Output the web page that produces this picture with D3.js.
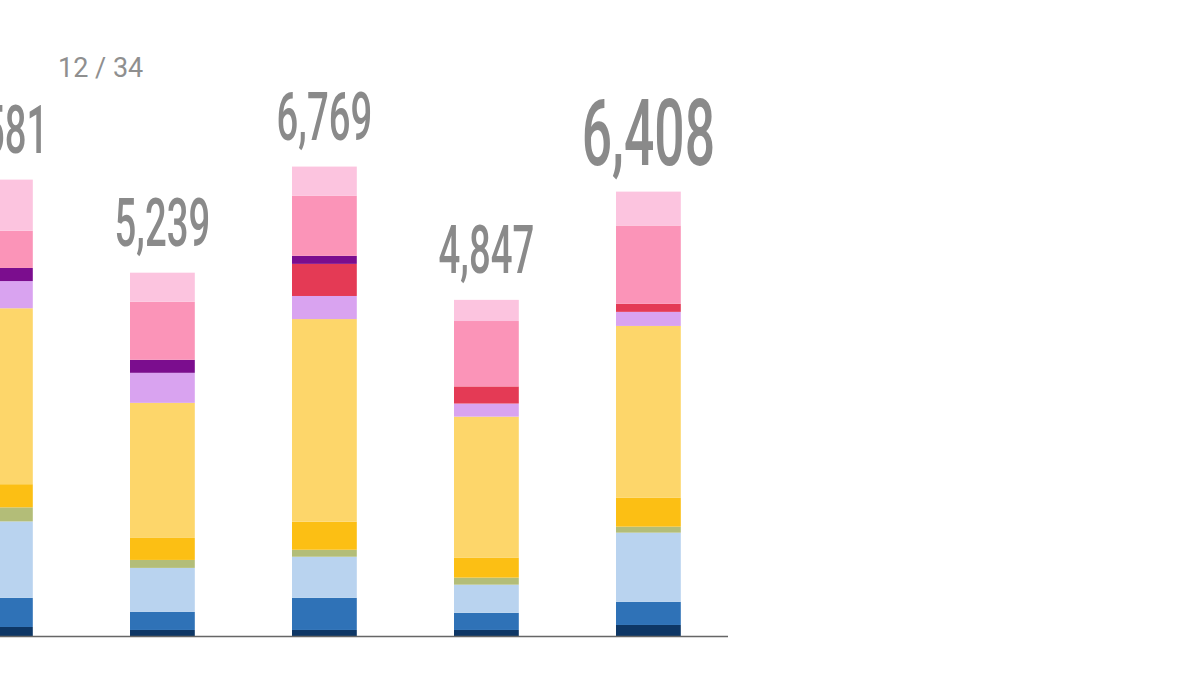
<!DOCTYPE html>
<html>
<head>
<meta charset="utf-8">
<script src="https://d3js.org/d3.v7.min.js"></script>
<style>
  body { margin: 0; background: #fff; }
  svg { display: block; }
</style>
</head>
<body>
<script>
"use strict";
var width = 1200, height = 675;

/* data (bottom to top of each bar) */
var bars = ["b1", "b2", "b3", "b4", "b5"];
var totals = [6581, 5239, 6769, 4847, 6408];
var keys = ["navy", "medBlue", "lightBlue", "olive", "amber", "yellow",
            "lavender", "crimson", "purple", "pink", "lightPink"];
var navy      = [130,  87,   87,   87,   159];
var medBlue   = [420,  260,  463,  247,  333];
var lightBlue = [1102, 635,  593,  406,  998];
var olive     = [203,  115,  101,  102,  87];
var amber     = [334,  317,  405,  290,  420];
var yellow    = [2537, 1948, 2921, 2031, 2474];
var lavender  = [392,  433,  333,  189,  203];
var crimson   = [0,    0,    463,  247,  116];
var purple    = [189,  188,  116,  0,    0];
var pink      = [537,  837,  868,  943,  1129];
var lightPink = [737,  419,  419,  305,  489];
var pageLabel = "12 / 34";
var highlight = "b5";

var colors = {
  navy: "#0e3766", medBlue: "#2f72b7", lightBlue: "#b9d3ef", olive: "#b3bd78",
  amber: "#fcbf14", yellow: "#fdd66a", lavender: "#d9a3f0", crimson: "#e43a55",
  purple: "#7b0d8e", pink: "#fb94b8", lightPink: "#fcc4df"
};

var series = {navy: navy, medBlue: medBlue, lightBlue: lightBlue, olive: olive,
  amber: amber, yellow: yellow, lavender: lavender, crimson: crimson,
  purple: purple, pink: pink, lightPink: lightPink};

var table = bars.map(function(b, i) {
  var row = {bar: b};
  keys.forEach(function(k) { row[k] = series[k][i]; });
  return row;
});

var baseY = 636;
var svg = d3.select("body").append("svg")
  .attr("width", width).attr("height", height);

var x = d3.scaleBand().domain(bars)
  .range([-32, 680.8]).paddingInner(0.6).paddingOuter(0).align(0);
var y = d3.scaleLinear().domain([0, 9171]).range([baseY, 0]);

var stack = d3.stack().keys(keys)(table);

svg.append("g").selectAll("g")
  .data(stack).enter().append("g")
  .attr("fill", function(d) { return colors[d.key]; })
  .selectAll("rect")
  .data(function(d) { return d; }).enter().append("rect")
  .attr("x", function(d) { return x(d.data.bar); })
  .attr("width", x.bandwidth())
  .attr("y", function(d) { return y(d[1]); })
  .attr("height", function(d) { return y(d[0]) - y(d[1]); });

/* baseline */
svg.append("line")
  .attr("x1", 0).attr("x2", 728)
  .attr("y1", baseY + 0.5).attr("y2", baseY + 0.5)
  .attr("stroke", "#666").attr("stroke-width", 1.5);

/* totals */
var fmt = d3.format(",");
svg.append("g").selectAll("text")
  .data(bars).enter().append("text")
  .attr("transform", function(b, i) {
    var cx = x(b) + x.bandwidth() / 2;
    return "translate(" + cx + "," + (y(totals[i]) - 27) + ") scale(0.58,1)";
  })
  .attr("text-anchor", "middle")
  .style("font-family", "Roboto, 'Noto Sans', sans-serif")
  .style("font-weight", 500)
  .style("font-size", function(b) { return b === highlight ? "92px" : "66px"; })
  .attr("fill", "#8a8a8a")
  .text(function(b, i) { return fmt(totals[i]); });

svg.append("text")
  .attr("x", 58).attr("y", 77)
  .style("font-family", "Roboto, 'Noto Sans', sans-serif")
  .style("font-size", "27px")
  .attr("fill", "#8f8f8f")
  .text(pageLabel);
</script>
</body>
</html>
